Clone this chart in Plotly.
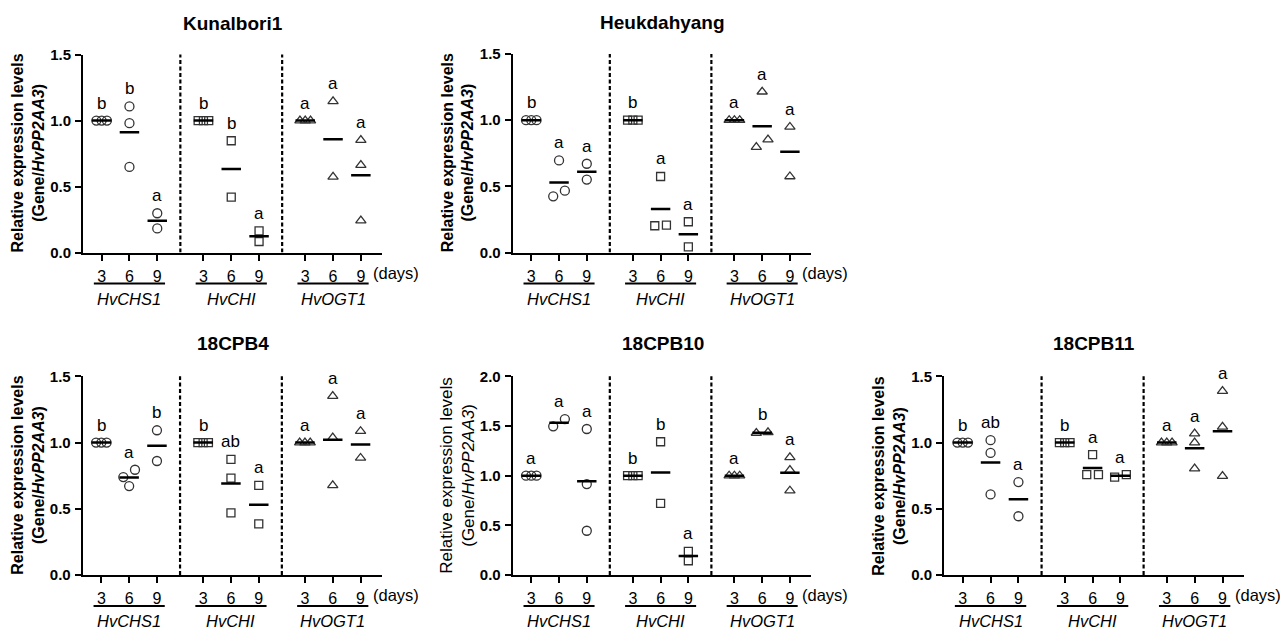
import plotly.graph_objects as go

# ---------------- data ----------------
days = ["3", "6", "9"]
genes = ["HvCHS1", "HvCHI", "HvOGT1"]
panel_titles = ["Kunalbori1", "Heukdahyang", "18CPB4", "18CPB10", "18CPB11"]

# Kunalbori1
kun_CHS1 = [[1.0, 1.0, 1.0], [1.107, 0.98, 0.649], [0.298, 0.183]]
kun_CHI = [[1.0, 1.0, 1.0], [0.847, 0.42], [0.165, 0.084]]
kun_OGT1 = [[1.0, 1.0, 1.0], [1.145, 0.573], [0.852, 0.662, 0.242]]
kun_letters = ["b", "b", "a", "b", "b", "a", "a", "a", "a"]

# Heukdahyang
heu_CHS1 = [[1.0, 1.0, 1.0], [0.696, 0.425, 0.468], [0.671, 0.552]]
heu_CHI = [[1.0, 1.0, 1.0], [0.575, 0.203, 0.208], [0.233, 0.043]]
heu_OGT1 = [[1.0, 1.0, 1.0], [1.215, 0.797, 0.853], [0.949, 0.575]]
heu_letters = ["b", "a", "a", "b", "a", "a", "a", "a", "a"]

# 18CPB4
c4_CHS1 = [[1.0, 1.0, 1.0], [0.795, 0.74, 0.672], [1.093, 0.861]]
c4_CHI = [[1.0, 1.0, 1.0], [0.874, 0.732, 0.47], [0.677, 0.386]]
c4_OGT1 = [[1.0, 1.0, 1.0], [1.351, 1.038, 0.677], [1.086, 0.884]]
c4_letters = ["b", "a", "b", "b", "ab", "a", "a", "a", "a"]

# 18CPB10
c10_CHS1 = [[1.0, 1.0, 1.0], [1.497, 1.57], [1.47, 0.916, 0.446]]
c10_CHI = [[1.0, 1.0, 1.0], [1.342, 0.721], [0.238, 0.144]]
c10_OGT1 = [[1.0, 1.0, 1.0], [1.43, 1.436], [1.185, 1.057, 0.849]]
c10_letters = ["a", "a", "a", "b", "b", "a", "a", "b", "a"]

# 18CPB11
c11_CHS1 = [[1.0, 1.0, 1.0], [1.018, 0.922, 0.609], [0.702, 0.444]]
c11_CHI = [[1.0, 1.0, 1.0], [0.909, 0.758, 0.758], [0.74, 0.758]]
c11_OGT1 = [[1.0, 1.0, 1.0], [1.068, 1.0, 0.803], [1.389, 1.119, 0.747]]
c11_letters = ["b", "ab", "a", "b", "a", "a", "a", "a", "a"]

y_max = [1.5, 1.5, 1.5, 2.0, 1.5]
y_ticks = [[0, 0.5, 1.0, 1.5], [0, 0.5, 1.0, 1.5], [0, 0.5, 1.0, 1.5],
           [0, 0.5, 1.0, 1.5, 2.0], [0, 0.5, 1.0, 1.5]]

panels_data = [
    (kun_CHS1, kun_CHI, kun_OGT1, kun_letters),
    (heu_CHS1, heu_CHI, heu_OGT1, heu_letters),
    (c4_CHS1, c4_CHI, c4_OGT1, c4_letters),
    (c10_CHS1, c10_CHI, c10_OGT1, c10_letters),
    (c11_CHS1, c11_CHI, c11_OGT1, c11_letters),
]

# ---------------- layout geometry (target pixels in the photo) ----------------
W, H = 1288, 628
X_OFF = 8          # page margin, horizontal
Y_OFF, Y_SC = 16.5, 0.9725   # observed page offset / vertical fit of the photo
boxes = [
    (83, 382, 54, 252),
    (512.7, 811, 53.5, 252),
    (82.7, 381.7, 375.7, 574.3),
    (512.7, 811, 375.7, 574.3),
    (944, 1243.7, 375.7, 574.3),
]
title_pos = [(232.5, 23), (662, 22), (232.5, 343), (662.5, 343), (1093.5, 343)]
ytitle_x = [28, 458, 28, 458, 889]
ytitle_bold = [True, True, True, False, True]
ytitle_size = [16, 16, 16, 17, 16]

GAP = 3.66
pos = [g * GAP + d for g in range(3) for d in range(3)]
XR = [-0.67, 10.08]
symbols = ["circle-open", "square-open", "triangle-up-open"]
msizes = [9, 8, 9]
MCOL = "#333333"
FONT = "Arial, Liberation Sans, sans-serif"


def pxx(px):
    return (px - X_OFF) / W


def pxy(py):
    return 1 - ((py - Y_OFF) / Y_SC) / H


def offsets(vals, px_per_unit):
    """simple swarm: spread points whose values are close in pixels"""
    order = sorted(range(len(vals)), key=lambda i: vals[i])
    clusters = []
    for i in order:
        if clusters and abs(vals[i] - vals[clusters[-1][-1]]) * px_per_unit < 8.5:
            clusters[-1].append(i)
        else:
            clusters.append([i])
    off = [0.0] * len(vals)
    for c in clusters:
        n = len(c)
        if n == 1:
            continue
        s = 0.42 if n == 2 else 0.19
        for k, i in enumerate(c):
            off[i] = (k - (n - 1) / 2) * s
    return off


fig = go.Figure()
shapes = []
annotations = []

for p in range(5):
    xl, xr, yt, yb = boxes[p]
    xa = "x" if p == 0 else f"x{p+1}"
    ya = "y" if p == 0 else f"y{p+1}"
    xkey = "xaxis" if p == 0 else f"xaxis{p+1}"
    ykey = "yaxis" if p == 0 else f"yaxis{p+1}"
    ppu = (yb - yt) / y_max[p]
    g1, g2, g3, letters = panels_data[p]

    fig.update_layout(**{
        xkey: dict(domain=[pxx(xl), pxx(xr)], range=XR, anchor=ya,
                   tickvals=pos, ticktext=days * 3, ticks="outside", ticklen=6,
                   tickwidth=2, tickcolor="black", showline=True, linewidth=2,
                   linecolor="black", showgrid=False, zeroline=False,
                   tickfont=dict(size=16, color="black", family=FONT),
                   ticklabelstandoff=2, fixedrange=True),
        ykey: dict(domain=[pxy(yb), pxy(yt)], range=[0, y_max[p]],
                   anchor=xa, tickvals=y_ticks[p], tickformat=".1f",
                   ticks="outside", ticklen=6, tickwidth=2, tickcolor="black",
                   showline=True, linewidth=2, linecolor="black",
                   showgrid=False, zeroline=False,
                   tickfont=dict(size=15, color="black", family=FONT, weight="bold"),
                   ticklabelstandoff=1, fixedrange=True),
    })

    mean_x, mean_y = [], []
    for gi, grp in enumerate([g1, g2, g3]):
        xs, ys = [], []
        for di, vals in enumerate(grp):
            k = gi * 3 + di
            off = offsets(vals, ppu)
            xs += [pos[k] + o for o in off]
            ys += vals
            m = sum(vals) / len(vals)
            mean_x += [pos[k] - 0.35, pos[k] + 0.35, None]
            mean_y += [m, m, None]
            annotations.append(dict(x=pos[k], y=max(vals), xref=xa, yref=ya,
                                    text=letters[k], showarrow=False, yshift=17.5,
                                    yanchor="middle",
                                    font=dict(size=17, color="black", family=FONT)))
        fig.add_trace(go.Scatter(x=xs, y=ys, xaxis=xa, yaxis=ya, mode="markers",
                                 marker=dict(symbol=symbols[gi], size=msizes[gi],
                                             color=MCOL, line=dict(width=1.3, color=MCOL)),
                                 cliponaxis=False, showlegend=False, hoverinfo="y"))
    fig.add_trace(go.Scatter(x=mean_x, y=mean_y, xaxis=xa, yaxis=ya, mode="lines",
                             line=dict(color="black", width=2.5), cliponaxis=False,
                             showlegend=False, hoverinfo="skip"))

    # dashed dividers between gene groups
    for dv in [(pos[2] + pos[3]) / 2, (pos[5] + pos[6]) / 2]:
        shapes.append(dict(type="line", xref=xa, yref=ya, x0=dv, x1=dv,
                           y0=0, y1=y_max[p] * 1.02,
                           line=dict(color="black", width=2.2, dash="4px,2.5px")))
    # group underlines and gene labels
    for gi in range(3):
        c = pos[gi * 3 + 1]
        shapes.append(dict(type="line", xref=xa, yref="paper", x0=c - 1.28, x1=c + 1.28,
                           y0=pxy(yb + 31), y1=pxy(yb + 31),
                           line=dict(color="black", width=2)))
        annotations.append(dict(x=c, y=pxy(yb + 46), xref=xa, yref="paper",
                                text=f"<i>{genes[gi]}</i>", showarrow=False,
                                xanchor="center", yanchor="middle",
                                font=dict(size=16.5, color="black", family=FONT)))
    # (days)
    annotations.append(dict(x=pos[8] + 0.38, y=pxy(yb + 20), xref=xa, yref="paper",
                            text="(days)", showarrow=False, xanchor="left",
                            yanchor="middle",
                            font=dict(size=16.5, color="black", family=FONT)))
    # panel title
    tx, ty = title_pos[p]
    annotations.append(dict(x=pxx(tx), y=pxy(ty), xref="paper", yref="paper",
                            text=f"<b>{panel_titles[p]}</b>", showarrow=False,
                            xanchor="center", yanchor="middle",
                            font=dict(size=19, color="black", family=FONT)))
    # y-axis title
    yt_txt = "Relative expression levels<br>(Gene/<i>HvPP2AA3</i>)"
    if ytitle_bold[p]:
        yt_txt = f"<b>{yt_txt}</b>"
    annotations.append(dict(x=pxx(ytitle_x[p]), y=pxy((yt + yb) / 2),
                            xref="paper", yref="paper", text=yt_txt, textangle=-90,
                            showarrow=False, xanchor="center", yanchor="middle",
                            font=dict(size=ytitle_size[p], color="black", family=FONT)))

fig.update_layout(width=W, height=H, margin=dict(l=0, r=0, t=0, b=0),
                  paper_bgcolor="white", plot_bgcolor="white",
                  shapes=shapes, annotations=annotations, showlegend=False,
                  font=dict(family=FONT, color="black"))

fig.write_html("out.html", config={"displayModeBar": False})
